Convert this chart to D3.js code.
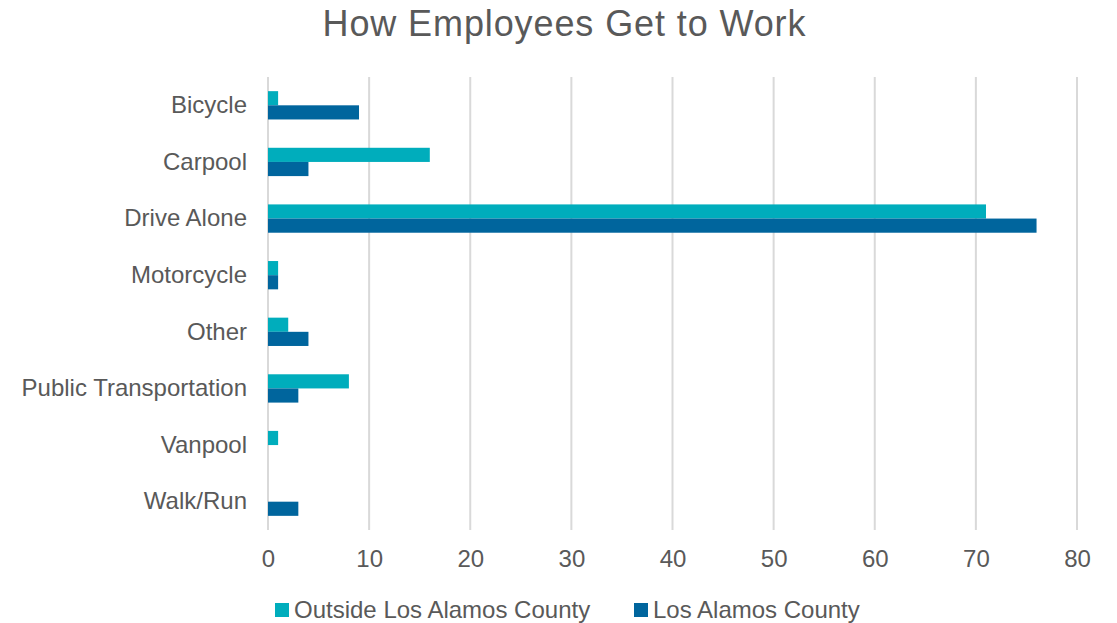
<!DOCTYPE html>
<html>
<head>
<meta charset="utf-8">
<script src="https://cdn.jsdelivr.net/npm/d3@7"></script>
<style>
  body { margin: 0; background: #fff; }
  text { font-family: "Liberation Sans", Arial, sans-serif; fill: #595959; }
</style>
</head>
<body>
<svg id="chart" width="1117" height="623"></svg>
<script>
const categories = ["Bicycle", "Carpool", "Drive Alone", "Motorcycle", "Other",
                    "Public Transportation", "Vanpool", "Walk/Run"];
const seriesNames = ["Outside Los Alamos County", "Los Alamos County"];
const outsideValues = [1, 16, 71, 1, 2, 8, 1, 0];
const losAlamosValues = [9, 4, 76, 1, 4, 3, 0, 3];
const xTicks = [0, 10, 20, 30, 40, 50, 60, 70, 80];
const colors = ["#00ADBC", "#00659D"];

const svg = d3.select("#chart");
const m = {left: 268, right: 1077, top: 77, bottom: 530};
const font = "Liberation Sans, Arial, sans-serif";

const rows = categories.map((c, i) => ({cat: c, vals: [outsideValues[i], losAlamosValues[i]]}));

const x = d3.scaleLinear().domain([0, 80]).range([m.left, m.right]);
const y = d3.scaleBand().domain(categories).range([m.top, m.bottom]).paddingInner(0.5).paddingOuter(0.25);
const ySub = d3.scaleBand().domain([0, 1]).range([0, y.bandwidth()]);

// title
svg.append("text")
  .attr("x", 564).attr("y", 36)
  .attr("text-anchor", "middle")
  .attr("font-size", 36)
  .attr("textLength", 483)
  .text("How Employees Get to Work");

// gridlines
svg.append("g")
  .selectAll("line")
  .data(xTicks)
  .join("line")
    .attr("x1", d => x(d)).attr("x2", d => x(d))
    .attr("y1", m.top).attr("y2", m.bottom)
    .attr("stroke", "#D9D9D9")
    .attr("stroke-width", 2);

// bars
const groups = svg.append("g")
  .selectAll("g")
  .data(rows)
  .join("g")
    .attr("transform", d => `translate(0,${y(d.cat)})`);

groups.selectAll("rect")
  .data(d => d.vals.map((v, k) => ({v, k})))
  .join("rect")
    .attr("x", x(0))
    .attr("y", d => ySub(d.k))
    .attr("width", d => x(d.v) - x(0))
    .attr("height", ySub.bandwidth())
    .attr("fill", d => colors[d.k]);

// x axis
const xAxis = svg.append("g")
  .attr("transform", `translate(0,${m.bottom})`)
  .call(d3.axisBottom(x).tickValues(xTicks).tickSize(0).tickPadding(20));
xAxis.select(".domain").remove();
xAxis.selectAll("text").attr("font-size", 24).attr("fill", "#595959").attr("font-family", font);

// y axis
const yAxis = svg.append("g")
  .attr("transform", `translate(${m.left},0)`)
  .call(d3.axisLeft(y).tickSize(0).tickPadding(21));
yAxis.select(".domain").remove();
yAxis.selectAll("text").attr("font-size", 24).attr("fill", "#595959").attr("font-family", font);

// legend
const legendX = [275, 634];
const legend = svg.append("g")
  .selectAll("g")
  .data(seriesNames)
  .join("g")
    .attr("transform", (d, i) => `translate(${legendX[i]},610)`);
legend.append("rect")
  .attr("x", 0).attr("y", -7).attr("width", 14).attr("height", 14)
  .attr("fill", (d, i) => colors[i]);
legend.append("text")
  .attr("x", 19).attr("y", 8)
  .attr("font-size", 24)
  .text(d => d);
</script>
</body>
</html>
